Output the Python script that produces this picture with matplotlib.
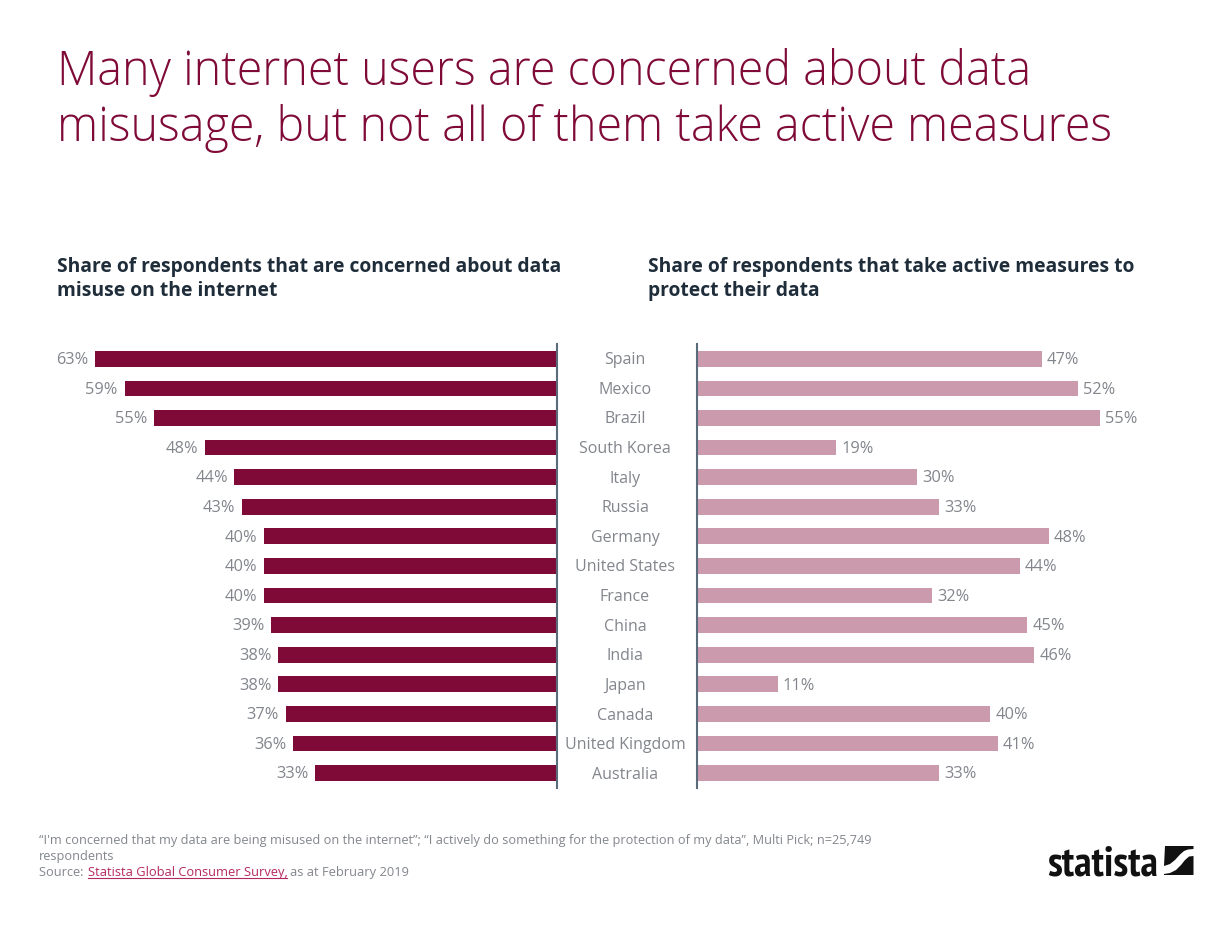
import matplotlib
matplotlib.use("Agg")
import matplotlib.pyplot as plt
from matplotlib.patches import PathPatch
from matplotlib.path import Path
from matplotlib.lines import Line2D

countries = ["Spain", "Mexico", "Brazil", "South Korea", "Italy", "Russia", "Germany",
             "United States", "France", "China", "India", "Japan", "Canada",
             "United Kingdom", "Australia"]
concerned = [63, 59, 55, 48, 44, 43, 40, 40, 40, 39, 38, 38, 37, 36, 33]
active = [47, 52, 55, 19, 30, 33, 48, 44, 32, 45, 46, 11, 40, 41, 33]

title_lines = ["Many internet users are concerned about data",
               "misusage, but not all of them take active measures"]
left_head = ["Share of respondents that are concerned about data", "misuse on the internet"]
right_head = ["Share of respondents that take active measures to", "protect their data"]
note_lines = ["“I'm concerned that my data are being misused on the internet”; “I actively do something for the protection of my data”, Multi Pick; n=25,749",
              "respondents"]

W, H = 1220, 938
FONT = "Open Sans"
DARK = "#7f0a38"
LIGHT = "#cb9aad"
GREY = "#82868c"
NAVY = "#1f2d3a"
AXC = "#5a6b7b"

fig = plt.figure(figsize=(W / 100, H / 100), dpi=100, facecolor="white")

def fx(p): return p / W
def fy(p): return 1 - p / H

def rect(x0, x1, y0, y1):
    return [fx(x0), fy(y1), fx(x1) - fx(x0), fy(y0) - fy(y1)]

PX = 7.33
ROW = 29.64
YLIM = (14 + 15 / ROW, -14.8 / ROW)
ax_l = fig.add_axes(rect(40, 557, 344, 788))
ax_r = fig.add_axes(rect(697, 1200, 344, 788))
ax_l.set_xlim(517 / PX, 0)
ax_r.set_xlim(0, 503 / PX)
ypos = list(range(len(countries)))

for ax, vals, col, side in ((ax_l, concerned, DARK, "right"), (ax_r, active, LIGHT, "left")):
    ax.set_ylim(*YLIM)
    ax.barh(ypos, vals, height=0.53, color=col, linewidth=0)
    ax.set_xticks([])
    ax.set_yticks([])
    for s in ax.spines.values():
        s.set_visible(False)
    ax.spines[side].set_visible(True)
    ax.spines[side].set_color(AXC)
    ax.spines[side].set_linewidth(1.5)
    ax.patch.set_alpha(0)
    for y, v in zip(ypos, vals):
        ax.annotate(f"{v}%", (v, y), xytext=(3.8 if side == "left" else -4.8, 0.5),
                    textcoords="offset points", va="center_baseline",
                    ha="left" if side == "left" else "right",
                    fontsize=11.8, color=GREY, family=FONT)

for y, c in zip(ypos, countries):
    fig.text(fx(625), fy(358 + y * ROW), c, ha="center", va="center_baseline",
             fontsize=11.5, color=GREY, family=FONT)

for i, t in enumerate(title_lines):
    fig.text(fx(57), fy(85 + i * 56), t, fontsize=33.6, color=DARK, family=FONT,
             fontweight="light", ha="left", va="baseline")
for x, lines in ((57, left_head), (648, right_head)):
    for i, t in enumerate(lines):
        fig.text(fx(x), fy(272 + i * 24), t, fontsize=13.88, color=NAVY, family=FONT,
                 fontweight="bold", ha="left", va="baseline")

for i, t in enumerate(note_lines):
    fig.text(fx(39), fy(843.5 + i * 16), t, fontsize=9.2, color=GREY, family=FONT,
             ha="left", va="baseline")
fig.text(fx(39), fy(875.5), "Source: ", fontsize=9.2, color=GREY, family=FONT, va="baseline")
fig.text(fx(88), fy(875.5), "Statista Global Consumer Survey,", fontsize=9.25, color="#b5285f",
         family=FONT, va="baseline")
fig.text(fx(290), fy(875.5), "as at February 2019", fontsize=9.3, color=GREY, family=FONT, va="baseline")
fig.add_artist(Line2D([fx(88), fx(287)], [fy(877.5)] * 2, color="#b5285f", lw=0.8))

fig.text(fx(1047), fy(875), "statista", fontsize=30.5, color="#111111",
         family=["PT Sans Narrow", "Liberation Sans"],
         fontweight="bold", ha="left", va="baseline")

def logo(pts):
    verts = [(fx(a), fy(b)) for a, b in pts] + [(0, 0)]
    codes = [Path.MOVETO] + [Path.LINETO] * (len(pts) - 1) + [Path.CLOSEPOLY]
    fig.add_artist(PathPatch(Path(verts, codes), transform=fig.transFigure, fc="#111111", ec="none"))

logo([(1165, 846), (1193.5, 846), (1193.5, 849), (1188, 849.5), (1184, 851), (1180, 854.5),
      (1175, 860), (1170, 864), (1164, 866)])
logo([(1193.5, 856), (1189, 856.5), (1185, 860), (1181, 865), (1176, 870), (1170, 873),
      (1164, 874), (1164, 875), (1193.5, 875)])

fig.savefig("out.png", dpi=100)
